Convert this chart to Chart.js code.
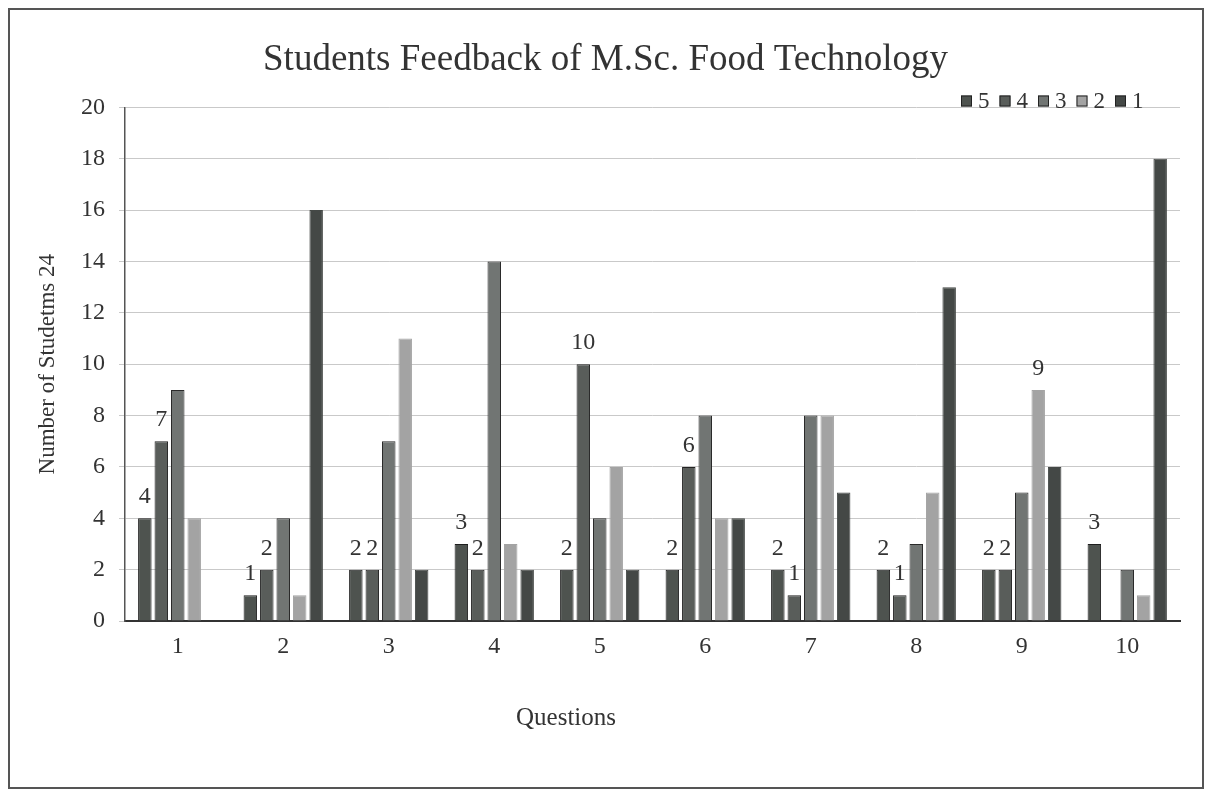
<!DOCTYPE html>
<html>
<head>
<meta charset="utf-8">
<script src="https://cdn.jsdelivr.net/npm/chart.js@4/dist/chart.umd.min.js"></script>
<style>
  html, body { margin: 0; padding: 0; background: #fff; }
  #wrap { width: 1211px; height: 792px; position: relative; }
</style>
</head>
<body>
<div id="wrap"><canvas id="grafico"></canvas></div>
<script>
const questions = ['1', '2', '3', '4', '5', '6', '7', '8', '9', '10'];
const seriesNames = ['5', '4', '3', '2', '1'];
const rating5 = [4, 1, 2, 3, 2, 2, 2, 2, 2, 3];
const rating4 = [7, 2, 2, 2, 10, 6, 1, 1, 2, 0];
const rating3 = [9, 4, 7, 14, 4, 8, 8, 3, 5, 2];
const rating2 = [4, 1, 11, 3, 6, 4, 8, 5, 9, 1];
const rating1 = [0, 16, 2, 2, 2, 4, 5, 13, 6, 18];
const yTicks = [0, 2, 4, 6, 8, 10, 12, 14, 16, 18, 20];
// which bars carry a value label in the picture
const labels5 = [1, 1, 1, 1, 1, 1, 1, 1, 1, 1];
const labels4 = [1, 1, 1, 1, 1, 1, 1, 1, 1, 0];
const labels3 = [0, 0, 0, 0, 0, 0, 0, 0, 0, 0];
const labels2 = [0, 0, 0, 0, 0, 0, 0, 0, 1, 0];
const labels1 = [0, 0, 0, 0, 0, 0, 0, 0, 0, 0];

const serif = "'Liberation Serif', 'Times New Roman', serif";
const ink = '#333';

const fills = ['#4e534f', '#595d5a', '#717573', '#a3a3a3', '#444846'];
const edges = ['#1e1e1e', '#222222', '#2a2a2a', '#a3a3a3', '#444846'];
const values = [rating5, rating4, rating3, rating2, rating1];
const flags = [labels5, labels4, labels3, labels2, labels1];

const extras = {
    id: 'extras',
    beforeDraw(chart) {
        const c = chart.ctx;
        c.save();
        c.fillStyle = '#fff';
        c.fillRect(0, 0, chart.width, chart.height);
        c.strokeStyle = '#555';
        c.lineWidth = 2;
        c.strokeRect(9, 9, 1194, 779);
        c.restore();
    },
    afterDatasetsDraw(chart) {
        const c = chart.ctx;
        c.save();
        c.font = '24px ' + serif;
        c.fillStyle = ink;
        c.textAlign = 'center';
        c.textBaseline = 'alphabetic';
        chart.data.datasets.forEach((ds, d) => {
            const meta = chart.getDatasetMeta(d);
            meta.data.forEach((bar, i) => {
                if (flags[d][i] && ds.data[i] > 0) {
                    c.fillText(String(ds.data[i]), bar.x, bar.y - 15);
                }
            });
        });

        // x axis title
        c.font = '25px ' + serif;
        c.textBaseline = 'middle';
        c.fillText('Questions', 566, 718);

        // legend
        c.font = '23px ' + serif;
        c.textAlign = 'left';
        let x = 961;
        const y = 101;
        chart.data.datasets.forEach((ds) => {
            c.fillStyle = ds.backgroundColor;
            c.fillRect(x, y - 5.5, 11, 11);
            c.strokeStyle = '#222';
            c.lineWidth = 1;
            c.strokeRect(x + 0.5, y - 5, 10, 10);
            c.fillStyle = ink;
            c.fillText(ds.label, x + 17, y + 1);
            x += 17 + c.measureText(ds.label).width + 10;
        });
        c.restore();
    }
};

new Chart(document.getElementById('grafico').getContext('2d'), {
    type: 'bar',
    data: {
        labels: questions,
        datasets: seriesNames.map((name, k) => ({
            label: name,
            data: values[k],
            backgroundColor: fills[k],
            borderColor: edges[k],
            borderWidth: 1,
            categoryPercentage: 0.78,
            barPercentage: 0.82
        }))
    },
    plugins: [extras],
    options: {
        responsive: true,
        maintainAspectRatio: false,
        animation: false,
        layout: { padding: { top: 10, left: 20, right: 20, bottom: 10 } },
        plugins: {
            legend: { display: false },
            tooltip: { enabled: false },
            title: {
                display: true,
                text: 'Students Feedback of M.Sc. Food Technology',
                color: ink,
                font: { family: serif, size: 37, weight: 'normal' },
                padding: { top: 28, bottom: 25 }
            }
        },
        scales: {
            x: {
                grid: { display: false },
                border: { display: true, color: '#333', width: 2 },
                ticks: { color: ink, padding: 3, font: { family: serif, size: 24 } },
                afterFit(s) { s.height = 161; }
            },
            y: {
                min: 0,
                max: 20,
                afterBuildTicks(s) { s.ticks = yTicks.map(v => ({ value: v })); },
                grid: { color: '#c9c9c9', lineWidth: 1, tickLength: 6 },
                border: { display: true, color: '#555', width: 1.5 },
                ticks: { color: ink, padding: 14, font: { family: serif, size: 24 } },
                title: {
                    display: true,
                    text: 'Number of Studetms 24',
                    color: ink,
                    font: { family: serif, size: 23 },
                    padding: { top: 14, bottom: 0 }
                },
                afterFit(s) { s.width = 105; }
            },
            yRight: {
                position: 'right',
                grid: { display: false },
                border: { display: false },
                ticks: { display: false },
                afterFit(s) { s.width = 11; }
            }
        }
    }
});
</script>
</body>
</html>
